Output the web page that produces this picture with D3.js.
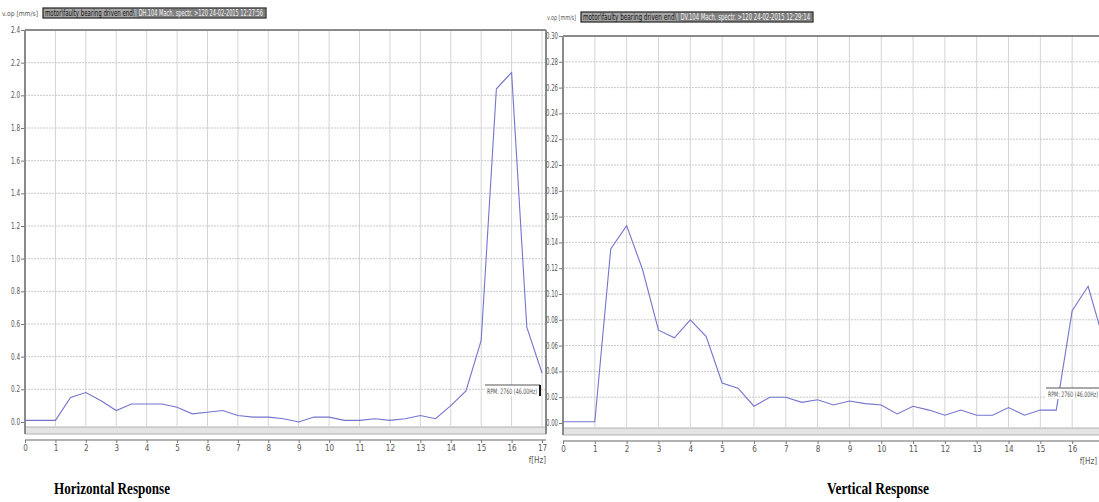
<!DOCTYPE html>
<html>
<head>
<meta charset="utf-8">
<script src="https://cdn.jsdelivr.net/npm/d3@7"></script>
<style>
  body { margin: 0; background: #fff; }
  svg { display: block; }
  .tick-label { font-family: "Liberation Sans Narrow", "DejaVu Sans Condensed", sans-serif; font-size: 8px; fill: #555; }
  .caption { font-family: "Liberation Serif", "DejaVu Serif", serif; font-size: 16px; font-weight: bold; fill: #000; }
</style>
</head>
<body>
<svg width="1099" height="502"></svg>
<script>
// frequency points (Hz), shared by both spectra
const freqs = [0, 1, 1.5, 2, 2.5, 3, 3.5, 4, 4.5, 5, 5.5, 6, 6.5, 7, 7.5, 8, 8.5,
               9, 9.5, 10, 10.5, 11, 11.5, 12, 12.5, 13, 13.5, 14, 14.5, 15, 15.5, 16, 16.5, 17];

// horizontal response, v.op [mm/s]
const horizValues = [0.01, 0.01, 0.15, 0.18, 0.13, 0.07, 0.11, 0.11, 0.11, 0.09, 0.05, 0.06, 0.07, 0.04, 0.03, 0.03, 0.02,
                     0.00, 0.03, 0.03, 0.01, 0.01, 0.02, 0.01, 0.02, 0.04, 0.02, 0.10, 0.19, 0.50, 2.04, 2.14, 0.58, 0.30];

// vertical response, v.op [mm/s]
const vertValues = [0.001, 0.001, 0.135, 0.153, 0.119, 0.072, 0.066, 0.080, 0.067, 0.031, 0.027, 0.013, 0.020, 0.020, 0.016, 0.018, 0.014,
                    0.017, 0.015, 0.014, 0.007, 0.013, 0.010, 0.006, 0.010, 0.006, 0.006, 0.012, 0.006, 0.010, 0.010, 0.087, 0.106, 0.063];

const xTicks = d3.range(0, 18);
const horizYTicks = [0, 0.2, 0.4, 0.6, 0.8, 1.0, 1.2, 1.4, 1.6, 1.8, 2.0, 2.2, 2.4];
const vertYTicks = [0, 0.02, 0.04, 0.06, 0.08, 0.10, 0.12, 0.14, 0.16, 0.18, 0.20, 0.22, 0.24, 0.26, 0.28, 0.30];

const headerText = ["motor\\faulty bearing driven end\\", "DH.104 Mach. spectr. >120 24-02-2015 12:27:56"];
const headerText2 = ["motor\\faulty bearing driven end\\", "DV.104 Mach. spectr. >120 24-02-2015 12:29:14"];
const rpmText = "RPM: 2760 (46.00Hz)";

const svg = d3.select("svg");
const narrow = "'Liberation Sans Narrow', 'DejaVu Sans Condensed', sans-serif";

function drawPanel(opt) {
    const g = svg.append("g");
    const x = d3.scaleLinear().domain([0, 17]).range([opt.x0, opt.x1]);
    const y = d3.scaleLinear().domain([0, opt.yMax]).range([opt.yBottom, opt.yTop]);
    const right = Math.min(opt.x1 + 4, 1099);

    // clip for the cut-off right panel
    const clipId = "clip" + opt.id;
    svg.append("clipPath").attr("id", clipId)
        .append("rect").attr("x", opt.x0).attr("y", opt.yTop - 2)
        .attr("width", right - opt.x0).attr("height", opt.yBottom - opt.yTop + 12);

    // vertical grid
    g.selectAll(".vgrid").data(xTicks.slice(1)).enter().append("line")
        .attr("x1", d => x(d)).attr("x2", d => x(d))
        .attr("y1", opt.yTop).attr("y2", opt.yBottom + 4)
        .attr("stroke", "#d4d4d4").attr("stroke-width", 1);

    // horizontal dotted grid
    g.selectAll(".hgrid").data(opt.yTicks.slice(1)).enter().append("line")
        .attr("x1", opt.x0).attr("x2", right)
        .attr("y1", d => y(d)).attr("y2", d => y(d))
        .attr("stroke", "#c8c8c8").attr("stroke-dasharray", "2,1").attr("stroke-width", 1);

    // grey band below zero
    g.append("rect").attr("x", opt.x0).attr("y", opt.yBottom + 5)
        .attr("width", right - opt.x0).attr("height", 7)
        .attr("fill", "#e4e4e4");
    g.append("line").attr("x1", opt.x0).attr("x2", right)
        .attr("y1", opt.yBottom + 5).attr("y2", opt.yBottom + 5)
        .attr("stroke", "#b0b0b0");
    g.append("line").attr("x1", opt.x0).attr("x2", right)
        .attr("y1", opt.yBottom + 12).attr("y2", opt.yBottom + 12)
        .attr("stroke", "#b0b0b0");

    // frame
    g.append("line").attr("x1", opt.x0).attr("x2", right)
        .attr("y1", opt.yTop).attr("y2", opt.yTop)
        .attr("stroke", "#8a8a8a").attr("stroke-width", 2);
    g.append("line").attr("x1", opt.x0).attr("x2", opt.x0)
        .attr("y1", opt.yTop).attr("y2", opt.yBottom + 12)
        .attr("stroke", "#8a8a8a").attr("stroke-width", 2);
    if (opt.x1 + 4 <= 1099) {
        g.append("line").attr("x1", right).attr("x2", right)
            .attr("y1", opt.yTop).attr("y2", opt.yBottom + 12)
            .attr("stroke", "#8a8a8a").attr("stroke-width", 2);
    }

    // y axis ticks + labels
    const yAxis = g.append("g").attr("transform", `translate(${opt.x0 - 1},0)`)
        .call(d3.axisLeft(y).tickValues(opt.yTicks).tickSize(3).tickFormat(d3.format(opt.fmt)));
    yAxis.select(".domain").remove();
    yAxis.selectAll("line").attr("stroke", "#777");
    yAxis.selectAll("text").attr("class", "tick-label").attr("font-size", null).attr("font-family", null)
        .attr("x", -4).attr("textLength", opt.labelW).attr("lengthAdjust", "spacingAndGlyphs");

    // x axis
    const xAxis = g.append("g").attr("transform", `translate(0,${opt.yBottom + 18})`)
        .call(d3.axisBottom(x).tickValues(xTicks).tickSize(3).tickFormat(d3.format("d")));
    xAxis.select(".domain").attr("stroke", "#999").attr("stroke-width", 1.5)
        .attr("d", `M${opt.x0},0H${right}`);
    xAxis.selectAll("line").attr("stroke", "#777");
    xAxis.selectAll("text").attr("class", "tick-label").attr("font-size", null).attr("font-family", null).attr("y", 5);
    g.append("text").attr("class", "tick-label").attr("x", opt.unitX).attr("y", opt.yBottom + 41)
        .attr("text-anchor", "end").attr("font-size", 7).text("f[Hz]");

    // spectrum line
    const line = d3.line().x((d, i) => x(freqs[i])).y(d => y(d));
    g.append("path").datum(opt.values)
        .attr("clip-path", `url(#${clipId})`)
        .attr("d", line)
        .attr("fill", "none").attr("stroke", "#7474cf").attr("stroke-width", 1.1);

    // header label + box
    g.append("text").attr("x", opt.unitLabelX).attr("y", opt.headerY + 8)
        .attr("font-family", narrow).attr("font-size", 7).attr("fill", "#555")
        .attr("textLength", opt.boxX - opt.unitLabelX - 5).attr("lengthAdjust", "spacingAndGlyphs")
        .text("v.op [mm/s]");
    const hb = g.append("g").attr("transform", `translate(${opt.boxX},${opt.headerY})`);
    hb.append("rect").attr("width", opt.boxW).attr("height", 10)
        .attr("fill", "#a4a4a4").attr("stroke", "#222").attr("stroke-width", 1.2);
    const split = opt.boxW * 0.42;
    hb.append("rect").attr("x", split).attr("y", 1).attr("width", opt.boxW - split - 1).attr("height", 8)
        .attr("fill", "#7e7e7e");
    hb.append("text").attr("x", 2).attr("y", 8)
        .attr("font-family", narrow).attr("font-size", 8).attr("fill", "#111")
        .attr("textLength", split - 4).attr("lengthAdjust", "spacingAndGlyphs")
        .text(opt.header[0]);
    hb.append("text").attr("x", split + 2).attr("y", 8)
        .attr("font-family", narrow).attr("font-size", 8).attr("fill", "#f4f4f4")
        .attr("textLength", opt.boxW - split - 5).attr("lengthAdjust", "spacingAndGlyphs")
        .text(opt.header[1]);

    // RPM marker
    const rg = g.append("g").attr("transform", `translate(${opt.rpmX},${opt.rpmY})`);
    rg.append("rect").attr("width", 56).attr("height", 11).attr("fill", "#fff");
    rg.append("line").attr("x1", 0).attr("x2", 55).attr("y1", 0).attr("y2", 0).attr("stroke", "#555");
    rg.append("line").attr("x1", 55).attr("x2", 55).attr("y1", 0).attr("y2", 11)
        .attr("stroke", "#111").attr("stroke-width", 2);
    rg.append("text").attr("x", 2).attr("y", 8.5)
        .attr("font-family", narrow).attr("font-size", 7.5).attr("fill", "#555")
        .attr("textLength", 50).attr("lengthAdjust", "spacingAndGlyphs")
        .text(rpmText);

    // caption
    svg.append("text").attr("class", "caption").attr("x", opt.captionX).attr("y", 494)
        .attr("text-anchor", "middle")
        .attr("textLength", opt.captionW).attr("lengthAdjust", "spacingAndGlyphs")
        .text(opt.caption);
}

drawPanel({
    id: "h", values: horizValues, yMax: 2.4, yTicks: horizYTicks, fmt: ".1f", labelW: 9,
    x0: 25, x1: 542, yTop: 30, yBottom: 422,
    header: headerText, headerY: 8, boxX: 43, boxW: 223, unitLabelX: 2,
    rpmX: 485, rpmY: 385, unitX: 546,
    caption: "Horizontal Response", captionX: 112, captionW: 116
});

drawPanel({
    id: "v", values: vertValues, yMax: 0.30, yTicks: vertYTicks, fmt: ".2f", labelW: 12,
    x0: 563, x1: 1104, yTop: 36, yBottom: 423,
    header: headerText2, headerY: 12, boxX: 581, boxW: 232, unitLabelX: 547,
    rpmX: 1046, rpmY: 388, unitX: 1097,
    caption: "Vertical Response", captionX: 878, captionW: 102
});
</script>
</body>
</html>
